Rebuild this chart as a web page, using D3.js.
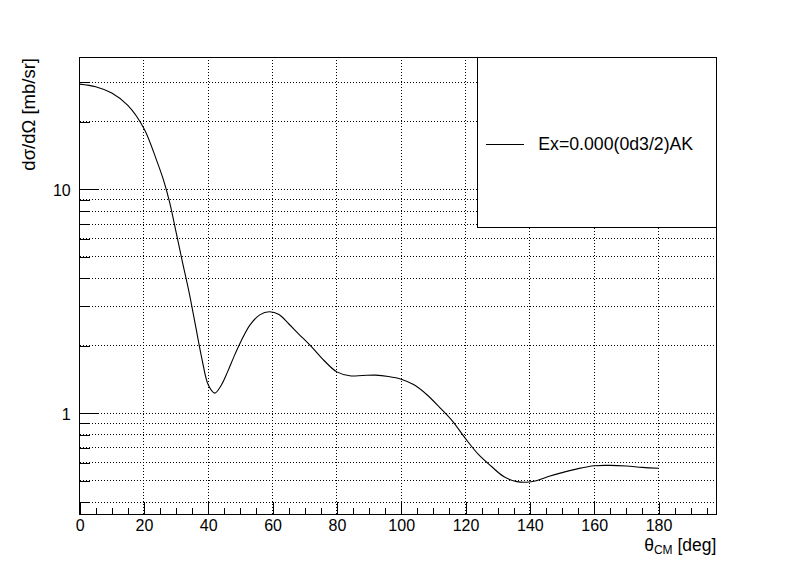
<!DOCTYPE html>
<html><head><meta charset="utf-8">
<script src="https://cdn.jsdelivr.net/npm/d3@7"></script>
<style>
body{margin:0;background:#fff}
svg{display:block}
text{font-family:"Liberation Sans",Arial,Helvetica,sans-serif;fill:#000}
</style>
</head><body>
<svg id="chart" width="796" height="572"></svg>
<script>
// ---- data ----
const thetaDeg = [0,5,10,15,20,24,26,28,30,32,34,36,38,40,42,44,46,48,50,53,56,59,62,65,68,72,76,80,84,88,92,96,100,104,108,112,116,120,124,128,132,136,139,142,146,150,155,160,165,170,175,180];
const dsigma   = [29.5,28.7,26.9,23.7,18.7,13.4,11.1,8.75,6.44,4.72,3.49,2.48,1.76,1.34,1.23,1.33,1.53,1.79,2.07,2.48,2.75,2.84,2.76,2.51,2.27,1.99,1.72,1.53,1.47,1.475,1.48,1.46,1.42,1.34,1.21,1.06,0.92,0.77,0.655,0.58,0.52,0.495,0.492,0.50,0.523,0.543,0.566,0.583,0.585,0.581,0.573,0.568];
const seriesLabel = "Ex=0.000(0d3/2)AK";
const xMajorTicks = [0,20,40,60,80,100,120,140,160,180];
const xTickLabels = ["0","20","40","60","80","100","120","140","160","180"];
const xMinorTicks = [5,10,15,25,30,35,45,50,55,65,70,75,85,90,95,105,110,115,125,130,135,145,150,155,165,170,175,185,190,195];
const yMajorTicks = [1,10];
const yTickLabels = ["1","10"];
const yMinorTicks = [0.4,0.5,0.6,0.7,0.8,0.9,2,3,4,5,6,7,8,9,20,30];
const xDomain = [0,198];
const yDomain = [0.352,38.9];

// ---- layout ----
const W = 796, H = 572;
const L = 79.6, R = 716.4, T = 57.2, B = 514.8;
const svg = d3.select("#chart");
svg.append("rect").attr("width",W).attr("height",H).attr("fill","#fff");

const x = d3.scaleLinear().domain(xDomain).range([L,R]);
const y = d3.scaleLog().domain(yDomain).range([B,T]);

// grid
const grid = svg.append("g").attr("stroke","#000").attr("stroke-width",1)
  .attr("stroke-dasharray","1,2").attr("shape-rendering","crispEdges");
grid.selectAll("line.gx").data(xMajorTicks.filter(d=>d>0)).join("line")
  .attr("x1",d=>x(d)).attr("x2",d=>x(d)).attr("y1",T).attr("y2",B);
grid.selectAll("line.gy").data(yMajorTicks.concat(yMinorTicks)).join("line")
  .attr("x1",L).attr("x2",R).attr("y1",d=>y(d)).attr("y2",d=>y(d));

// curve
const line = d3.line().x((d,i)=>x(thetaDeg[i])).y(d=>y(d)).curve(d3.curveCatmullRom.alpha(0.5));
svg.append("path").datum(dsigma).attr("d",line).attr("fill","none")
  .attr("stroke","#000").attr("stroke-width",1.1);

// x axis
const xAxisMaj = d3.axisBottom(x).tickValues(xMajorTicks)
  .tickFormat((d,i)=>xTickLabels[i]).tickSizeInner(-13).tickSizeOuter(0).tickPadding(4.8);
const gx = svg.append("g").attr("transform",`translate(0,${B})`).call(xAxisMaj);
gx.select(".domain").remove();
gx.selectAll("line").attr("shape-rendering","crispEdges");
gx.selectAll("text").attr("font-size",16).attr("font-family","Liberation Sans, Arial, sans-serif");
const xAxisMin = d3.axisBottom(x).tickValues(xMinorTicks).tickFormat("").tickSizeInner(-7).tickSizeOuter(0);
const gx2 = svg.append("g").attr("transform",`translate(0,${B})`).call(xAxisMin);
gx2.select(".domain").remove();
gx2.selectAll("line").attr("shape-rendering","crispEdges");

// y axis
const yAxisMaj = d3.axisLeft(y).tickValues(yMajorTicks)
  .tickFormat((d,i)=>yTickLabels[i]).tickSizeInner(-19).tickSizeOuter(0).tickPadding(8.9);
const gy = svg.append("g").attr("transform",`translate(${L},0)`).call(yAxisMaj);
gy.select(".domain").remove();
gy.selectAll("line").attr("shape-rendering","crispEdges");
gy.selectAll("text").attr("font-size",16).attr("dy","0.36em").attr("font-family","Liberation Sans, Arial, sans-serif");
const yAxisMin = d3.axisLeft(y).tickValues(yMinorTicks).tickFormat("").tickSizeInner(-10).tickSizeOuter(0);
const gy2 = svg.append("g").attr("transform",`translate(${L},0)`).call(yAxisMin);
gy2.select(".domain").remove();
gy2.selectAll("line").attr("shape-rendering","crispEdges");

// frame
svg.append("rect").attr("x",L).attr("y",T).attr("width",R-L).attr("height",B-T)
  .attr("fill","none").attr("stroke","#000").attr("stroke-width",1).attr("shape-rendering","crispEdges");

// axis titles
const xt = svg.append("text").attr("x",R).attr("y",550.7).attr("text-anchor","end").attr("font-size",17.5);
xt.append("tspan").text("θ");
xt.append("tspan").attr("font-size",12).attr("dy",3.5).text("CM");
xt.append("tspan").attr("dy",-3.5).text(" [deg]");

svg.append("text").attr("transform","translate(34.5,58) rotate(-90)")
  .attr("text-anchor","end").attr("font-size",18.5).text("dσ/dΩ [mb/sr]");

// legend
const lg = svg.append("g");
lg.append("rect").attr("x",477.3).attr("y",T).attr("width",R-477.3).attr("height",227.7-T)
  .attr("fill","#fff").attr("stroke","#000").attr("stroke-width",1).attr("shape-rendering","crispEdges");
lg.append("line").attr("x1",486).attr("x2",524).attr("y1",144.3).attr("y2",144.3)
  .attr("stroke","#000").attr("stroke-width",1).attr("shape-rendering","crispEdges");
lg.append("text").attr("x",538.3).attr("y",150).attr("font-size",17.7).text(seriesLabel);
</script>
</body></html>
